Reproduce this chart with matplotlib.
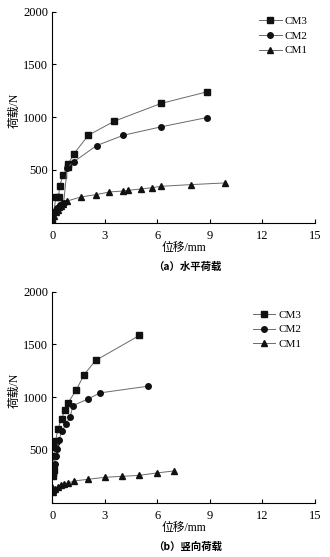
import matplotlib
matplotlib.use("Agg")
import matplotlib.pyplot as plt

plt.rcParams["font.family"] = ["Liberation Serif", "Noto Sans CJK SC"]
plt.rcParams["axes.unicode_minus"] = False

# ── (a) 水平荷载 ────────────────────────────────────────────────────────────
a_cm3_x = [0.0, 0.21, 0.36, 0.42, 0.63, 0.88, 0.92, 1.24, 2.06, 3.54, 6.20, 8.85]
a_cm3_y = [0, 247, 247, 348, 456, 530, 560, 655, 829, 962, 1130, 1241]
a_cm2_x = [0.0, 0.15, 0.27, 0.36, 0.45, 0.55, 0.65, 0.85, 1.24, 2.53, 4.06, 6.19, 8.84]
a_cm2_y = [0, 112, 135, 150, 165, 180, 190, 522, 579, 731, 829, 908, 997]
a_cm1_x = [0.0, 0.10, 0.20, 0.30, 0.40, 0.50, 0.62, 0.86, 1.64, 2.50, 3.26,
           4.06, 4.34, 5.07, 5.71, 6.21, 7.90, 9.87]
a_cm1_y = [5, 60, 100, 125, 145, 160, 175, 206, 244, 266, 291,
           301, 307, 320, 332, 345, 361, 377]

# ── (b) 竖向荷载 ────────────────────────────────────────────────────────────
b_cm3_x = [0.05, 0.06, 0.07, 0.10, 0.14, 0.19, 0.32, 0.53, 0.72, 0.91, 1.37, 1.82, 2.47, 4.97]
b_cm3_y = [250, 285, 310, 440, 525, 585, 703, 794, 880, 949, 1070, 1215, 1348, 1585]
b_cm2_x = [0.06, 0.08, 0.13, 0.19, 0.27, 0.38, 0.57, 0.80, 1.02, 1.18, 2.01, 2.73, 5.46]
b_cm2_y = [266, 313, 370, 446, 509, 598, 684, 750, 813, 921, 981, 1041, 1104]
b_cm1_x = [0.0, 0.03, 0.06, 0.15, 0.34, 0.49, 0.68, 0.91, 1.25, 2.05, 3.02,
           4.00, 4.97, 5.96, 6.95]
b_cm1_y = [150, 120, 105, 133, 152, 165, 177, 187, 206, 222, 241,
           250, 259, 282, 301]

x_ticks = [0, 3, 6, 9, 12, 15]
y_ticks = [500, 1000, 1500, 2000]
x_label = "位移/mm"
y_label = "荷载/N"
captions = ["（a）水平荷载", "（b）竖向荷载"]

_LINE = "#6a6a6a"
_MK = "#111111"
_CJK = ["Noto Sans CJK SC", "DejaVu Sans"]

W, H = 330, 557
dpi = 100
fig = plt.figure(figsize=(W / dpi, H / dpi), dpi=dpi, facecolor="white")


def _panel(top_px, series, caption, leg_anchor):
    ax = fig.add_axes([52.3 / W, 1 - (top_px + 211) / H, 262.7 / W, 211 / H])
    for xs, ys, mk, lab in series:
        ax.plot(xs, ys, color=_LINE, linewidth=0.7, marker=mk, markersize=4.0,
                markerfacecolor=_MK, markeredgecolor=_MK, label=lab)
    ax.set_xlim(0, 15)
    ax.set_ylim(0, 2000)
    ax.set_xticks(x_ticks)
    ax.set_yticks(y_ticks)
    ax.tick_params(direction="in", length=3, width=0.8, labelsize=9, pad=3)
    ax.tick_params(axis="x", pad=5)
    for s in ("top", "right"):
        ax.spines[s].set_visible(False)
    for s in ("left", "bottom"):
        ax.spines[s].set_linewidth(0.8)
    ax.text(0.5, -0.12, x_label, transform=ax.transAxes, ha="center", va="center",
            fontsize=8.5)
    ax.text(-0.145, 0.53, y_label, transform=ax.transAxes, ha="center", va="center",
            rotation=90, fontsize=8.5)
    ax.text(0.515, -0.21, caption, transform=ax.transAxes, ha="center", va="center",
            fontsize=7.5, family=_CJK, fontweight="bold")
    ax.legend(loc="upper right", bbox_to_anchor=leg_anchor, frameon=False,
              fontsize=8, handlelength=2.0, handletextpad=0.3,
              labelspacing=0.45, borderaxespad=0)
    return ax


_panel(11.7,
       [(a_cm3_x, a_cm3_y, "s", "CM3"),
        (a_cm2_x, a_cm2_y, "o", "CM2"),
        (a_cm1_x, a_cm1_y, "^", "CM1")],
       captions[0], (0.99, 1.0))
_panel(291.7,
       [(b_cm3_x, b_cm3_y, "s", "CM3"),
        (b_cm2_x, b_cm2_y, "o", "CM2"),
        (b_cm1_x, b_cm1_y, "^", "CM1")],
       captions[1], (0.965, 0.935))

fig.savefig("out.png", dpi=dpi, facecolor="white")
plt.close(fig)
